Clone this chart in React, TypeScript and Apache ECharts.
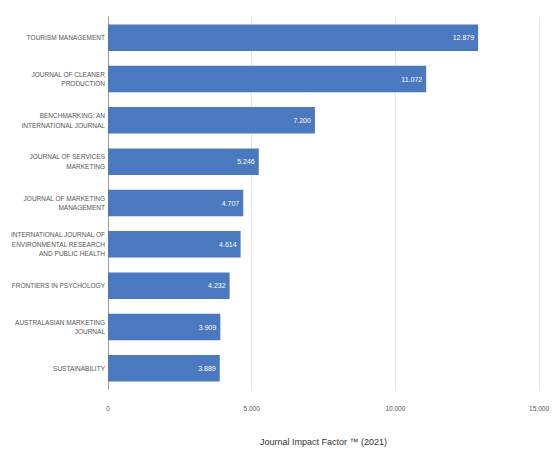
import React, { useEffect, useRef } from "react";
import * as echarts from "echarts";

const categories = [
  "TOURISM MANAGEMENT",
  "JOURNAL OF CLEANER\nPRODUCTION",
  "BENCHMARKING: AN\nINTERNATIONAL JOURNAL",
  "JOURNAL OF SERVICES\nMARKETING",
  "JOURNAL OF MARKETING\nMANAGEMENT",
  "INTERNATIONAL JOURNAL OF\nENVIRONMENTAL RESEARCH\nAND PUBLIC HEALTH",
  "FRONTIERS IN PSYCHOLOGY",
  "AUSTRALASIAN MARKETING\nJOURNAL",
  "SUSTAINABILITY",
];
const impactFactors = [12.879, 11.072, 7.2, 5.246, 4.707, 4.614, 4.232, 3.909, 3.889];
const axisTicks = [0, 5, 10, 15];
const axisTitle = "Journal Impact Factor \u2122 (2021)";

const FONT = "'Liberation Sans Narrow', 'Liberation Sans', Arial, sans-serif";

export default function App() {
  const ref = useRef<HTMLDivElement>(null);
  useEffect(() => {
    document.body.style.margin = "0";
    const chart = echarts.init(ref.current!, null, { renderer: "svg" });
    chart.setOption({
      animation: false,
      grid: { left: 108, right: 6, top: 17, bottom: 62, containLabel: false },
      xAxis: {
        type: "value",
        min: axisTicks[0],
        max: axisTicks[axisTicks.length - 1],
        interval: 5,
        name: axisTitle,
        nameLocation: "middle",
        nameGap: 48,
        nameTextStyle: { fontFamily: FONT, fontSize: 9, color: "#333" },
        axisLine: { show: false },
        axisTick: { show: false },
        splitLine: { show: true, lineStyle: { color: "#e4e4e4", width: 1 } },
        axisLabel: {
          fontFamily: FONT,
          fontSize: 6.5,
          color: "#555",
          margin: 16,
          formatter: (v: number) => (v === 0 ? "0" : v.toFixed(3)),
        },
      },
      yAxis: {
        type: "category",
        inverse: true,
        data: categories,
        axisLine: { show: true, lineStyle: { color: "#9a9a9a", width: 1 } },
        axisTick: { show: false },
        axisLabel: {
          fontFamily: FONT,
          fontSize: 6.5,
          lineHeight: 9.5,
          color: "#555",
          margin: 3,
          align: "right",
        },
      },
      series: [
        {
          type: "bar",
          data: impactFactors,
          barCategoryGap: "36%",
          itemStyle: { color: "#4a79bf" },
          label: {
            show: true,
            position: "insideRight",
            distance: 4,
            color: "#ffffff",
            fontFamily: FONT,
            fontSize: 7,
            formatter: (p: any) => (p.value as number).toFixed(3),
          },
        },
      ],
    });
    return () => chart.dispose();
  }, []);
  return <div ref={ref} style={{ width: 552, height: 451 }} />;
}
